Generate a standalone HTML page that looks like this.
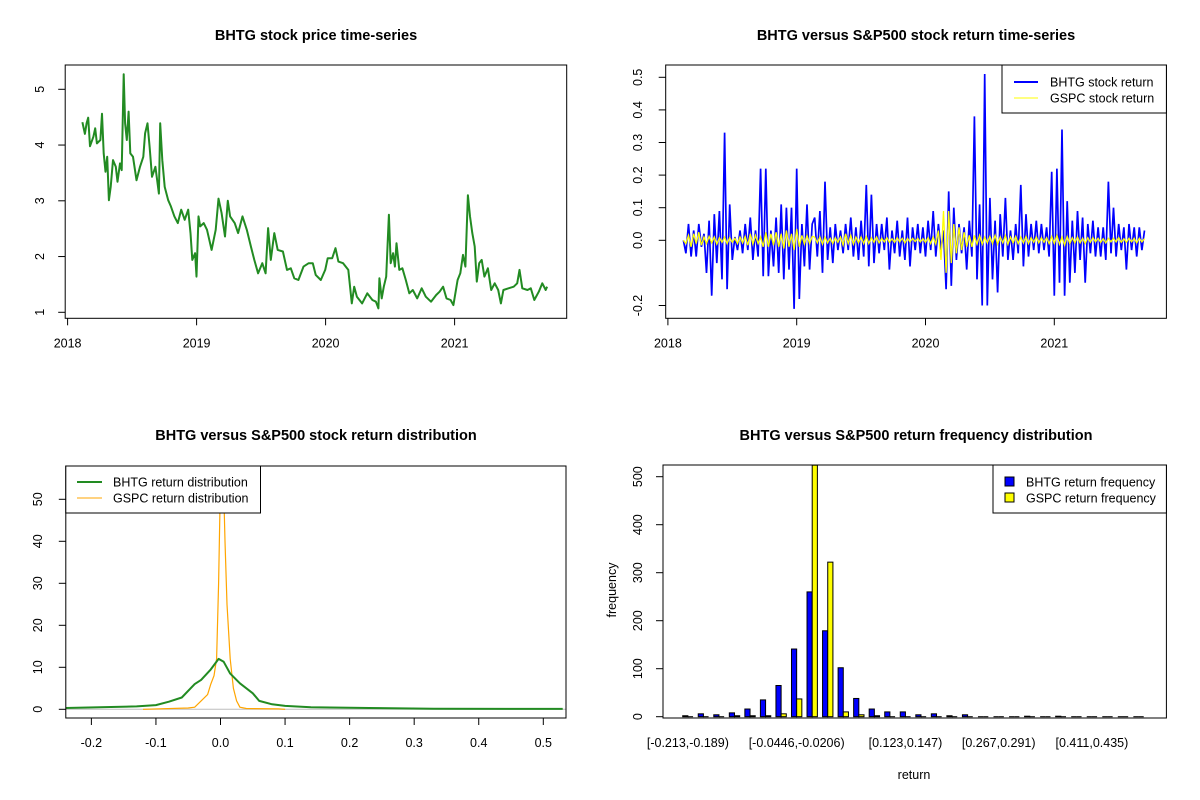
<!DOCTYPE html>
<html><head><meta charset="utf-8"><style>
html,body{margin:0;padding:0;background:#fff;}
svg{display:block;font-family:"Liberation Sans",Arial,sans-serif;}
.t{font-weight:bold;font-size:14.5px;text-anchor:middle;}
.tk{font-size:12.5px;}
</style></head><body>
<svg id="s" width="1200" height="800" viewBox="0 0 1200 800"></svg>
<script>
// ---------- DATA ----------
const priceYears=[2018.115,2018.134,2018.147,2018.160,2018.174,2018.200,2018.214,2018.227,2018.254,2018.267,2018.280,2018.294,2018.307,2018.320,2018.334,2018.352,2018.374,2018.387,2018.406,2018.419,2018.435,2018.446,2018.459,2018.473,2018.486,2018.507,2018.534,2018.561,2018.587,2018.601,2018.619,2018.636,2018.654,2018.681,2018.708,2018.718,2018.734,2018.753,2018.780,2018.801,2018.828,2018.854,2018.881,2018.908,2018.935,2018.953,2018.967,2018.988,2018.999,2019.015,2019.028,2019.055,2019.081,2019.116,2019.148,2019.170,2019.194,2019.220,2019.242,2019.260,2019.295,2019.322,2019.356,2019.389,2019.421,2019.447,2019.477,2019.509,2019.535,2019.554,2019.575,2019.602,2019.629,2019.669,2019.701,2019.730,2019.757,2019.789,2019.829,2019.869,2019.901,2019.923,2019.963,2019.997,2020.016,2020.051,2020.077,2020.099,2020.136,2020.176,2020.203,2020.222,2020.243,2020.283,2020.323,2020.363,2020.390,2020.409,2020.417,2020.435,2020.451,2020.470,2020.491,2020.505,2020.523,2020.537,2020.550,2020.571,2020.595,2020.622,2020.649,2020.676,2020.710,2020.745,2020.777,2020.817,2020.857,2020.884,2020.911,2020.937,2020.969,2020.991,2021.023,2021.044,2021.065,2021.084,2021.103,2021.119,2021.137,2021.156,2021.172,2021.191,2021.210,2021.231,2021.258,2021.284,2021.311,2021.338,2021.359,2021.378,2021.418,2021.458,2021.485,2021.503,2021.525,2021.565,2021.591,2021.618,2021.653,2021.680,2021.706,2021.717];
const priceValues=[4.41,4.20,4.39,4.49,3.98,4.15,4.30,4.03,4.09,4.56,3.85,3.52,3.79,3.01,3.25,3.73,3.61,3.34,3.67,3.55,5.27,4.39,4.09,4.60,3.85,3.79,3.37,3.61,3.79,4.21,4.39,3.97,3.43,3.61,3.13,4.39,3.73,3.25,3.01,2.90,2.72,2.60,2.84,2.66,2.84,2.42,1.94,2.06,1.64,2.72,2.54,2.60,2.48,2.12,2.48,3.04,2.78,2.36,3.00,2.72,2.60,2.42,2.72,2.48,2.18,1.94,1.70,1.88,1.70,2.51,1.94,2.42,2.12,2.09,1.76,1.79,1.61,1.58,1.82,1.88,1.88,1.67,1.58,1.76,1.97,1.97,2.15,1.91,1.88,1.76,1.16,1.46,1.28,1.16,1.34,1.22,1.19,1.07,1.61,1.25,1.46,1.64,2.75,1.88,2.06,1.82,2.24,1.76,1.79,1.58,1.34,1.40,1.25,1.43,1.28,1.19,1.31,1.37,1.46,1.25,1.22,1.13,1.58,1.70,2.03,1.82,3.10,2.72,2.42,2.18,1.55,1.88,1.94,1.64,1.79,1.40,1.52,1.40,1.16,1.40,1.43,1.46,1.52,1.76,1.43,1.40,1.43,1.22,1.37,1.52,1.40,1.46];
const priceTicks=[1,2,3,4,5];
const yearTicks=[2018,2019,2020,2021];

const returnStart=2018.12, returnStep=0.02;
const bhtgReturns=[0.0,-0.04,0.05,-0.05,0.03,-0.05,0.05,-0.02,0.02,-0.1,0.06,-0.17,0.08,-0.07,0.09,-0.12,0.33,-0.15,
0.11,-0.06,0.01,-0.03,0.03,-0.04,0.05,-0.03,0.07,-0.06,0.03,-0.05,
0.22,-0.11,0.22,-0.11,
0.03,-0.08,0.07,-0.1,0.11,-0.12,0.1,-0.09,0.1,-0.21,0.22,
-0.18,0.05,-0.08,0.11,-0.09,0.05,
0.07,-0.05,0.09,-0.1,0.18,-0.06,0.04,-0.07,0.05,-0.03,
0.03,-0.04,0.05,-0.03,0.07,-0.05,0.04,-0.06,0.06,-0.05,
0.17,-0.08,0.14,-0.07,0.05,-0.04,
0.05,-0.03,0.07,-0.09,0.03,-0.04,0.06,-0.05,0.03,-0.06,0.07,-0.08,0.04,-0.03,0.05,-0.04,0.04,-0.05,0.06,-0.03,
0.09,-0.05,0.05,-0.03,0.03,-0.15,0.15,-0.14,0.1,
-0.06,0.05,-0.04,0.04,-0.09,0.06,-0.05,0.38,-0.12,0.11,-0.2,0.51,-0.2,
0.13,-0.12,0.06,-0.16,0.08,-0.05,0.13,-0.06,0.03,-0.06,0.05,-0.04,
0.17,-0.08,0.08,-0.05,0.05,-0.03,0.06,-0.04,0.05,-0.03,
0.04,-0.05,0.21,-0.17,0.22,-0.13,0.34,-0.17,0.12,-0.13,0.06,-0.1,
0.09,-0.06,0.07,-0.13,0.05,-0.04,0.06,-0.05,0.04,-0.05,0.04,-0.06,0.18,
-0.04,0.1,-0.05,0.05,-0.03,0.04,-0.09,0.05,-0.03,0.04,-0.05,0.04,-0.03,0.03];
const gspcReturns=[0.0,-0.01,0.015,-0.02,0.02,-0.01,0.025,-0.015,0.01,-0.01,0.012,-0.008,0.01,-0.012,0.008,-0.006,0.01,-0.01,
0.008,-0.006,0.006,-0.01,0.01,-0.008,0.012,-0.015,0.02,-0.012,0.015,-0.01,
0.01,-0.02,0.025,-0.02,
0.02,-0.015,0.025,-0.02,0.02,-0.025,0.03,-0.02,0.02,-0.03,0.035,
-0.02,0.015,-0.012,0.015,-0.01,0.012,
0.01,-0.008,0.01,-0.012,0.01,-0.008,0.006,-0.01,0.008,-0.006,
0.01,-0.015,0.02,-0.01,0.015,-0.012,0.01,-0.008,0.01,-0.01,
0.012,-0.01,0.008,-0.006,0.01,-0.008,
0.006,-0.005,0.008,-0.006,0.005,-0.006,0.008,-0.005,0.006,-0.008,0.006,-0.005,0.006,-0.004,0.006,-0.005,0.005,-0.006,0.008,-0.01,
0.01,-0.012,0.03,-0.06,0.09,-0.1,0.09,-0.07,0.05,
-0.04,0.04,-0.03,0.025,-0.02,0.015,-0.02,0.015,-0.012,0.015,-0.012,0.01,-0.008,
0.012,-0.01,0.015,-0.012,0.01,-0.008,0.015,-0.012,0.01,-0.008,0.012,-0.01,
0.01,-0.008,0.012,-0.01,0.008,-0.006,0.01,-0.008,0.008,-0.006,
0.008,-0.01,0.012,-0.01,0.015,-0.012,0.01,-0.015,0.012,-0.01,0.008,-0.008,
0.01,-0.008,0.006,-0.01,0.008,-0.006,0.008,-0.005,0.006,-0.006,0.005,-0.008,0.006,
-0.005,0.006,-0.005,0.008,-0.006,0.005,-0.006,0.006,-0.005,0.006,-0.008,0.006,-0.005,0.005];
const returnTicks=[0.5,0.4,0.3,0.2,0.1,0.0,-0.2];
const returnTickLabels=["0.5","0.4","0.3","0.2","0.1","0.0","-0.2"];

const bhtgDensX=[-0.24,-0.13,-0.1,-0.08,-0.06,-0.04,-0.03,-0.015,-0.003,0.005,0.015,0.03,0.05,0.06,0.08,0.1,0.14,0.23,0.33,0.53];
const bhtgDensY=[0.3,0.7,1.0,1.8,2.8,6,7,9.5,12,11.3,8.5,6.2,3.8,2.0,1.2,0.8,0.5,0.3,0.15,0.1];
const gspcDensX=[-0.12,-0.05,-0.04,-0.03,-0.02,-0.015,-0.01,-0.006,-0.003,0,0.002,0.004,0.007,0.01,0.015,0.02,0.025,0.03,0.04,0.09,0.1];
const gspcDensY=[0,0.3,0.5,2,3.5,6,8,12,30,55,62,58,40,25,12,5,2,0.5,0.2,0.1,0];
const densXTicks=[-0.2,-0.1,0.0,0.1,0.2,0.3,0.4,0.5];
const densXLabels=["-0.2","-0.1","0.0","0.1","0.2","0.3","0.4","0.5"];
const densYTicks=[0,10,20,30,40,50];

const bhtgFreq=[2,6,4,8,16,35,65,141,260,179,102,38,16,10,10,4,6,2,4,0,0,0,1,0,1,0,0,0,0,0];
const gspcFreq=[0,0,0,2,2,2,6,37,524,322,10,4,2,0,0,0,0,0,0,0,0,0,0,0,0,0,0,0,0,0];
const binLabels={0:"[-0.213,-0.189)",7:"[-0.0446,-0.0206)",14:"[0.123,0.147)",20:"[0.267,0.291)",26:"[0.411,0.435)"};
const freqTicks=[0,100,200,300,400,500];

// ---------- HELPERS ----------
const NS="http://www.w3.org/2000/svg";
const svg=document.getElementById('s');
function mk(tag,attrs,parent){const e=document.createElementNS(NS,tag);for(const k in attrs)e.setAttribute(k,attrs[k]);(parent||svg).appendChild(e);return e;}
function txt(s,x,y,cls,extra,parent){const e=mk('text',Object.assign({x:x,y:y,class:cls},extra||{}),parent);e.textContent=s;return e;}
function group(name){const g=mk('g',{});return g;}
function box(g,x0,y0,x1,y1){const r=mk('rect',{x:x0,y:y0,width:x1-x0,height:y1-y0,fill:'none',stroke:'#000','stroke-width':1},g);}
function xTick(g,px,yb,label){mk('line',{x1:px,x2:px,y1:yb,y2:yb+7,stroke:'#000'},g);const t=txt(label,px,yb+29,'tk',{'text-anchor':'middle'},g);}
function yTick(g,py,xl,label,lx){mk('line',{x1:xl,x2:xl-7,y1:py,y2:py,stroke:'#000'},g);const t=txt(label,lx,py,'tk',{'text-anchor':'middle',transform:`rotate(-90 ${lx} ${py})`},g);}
function clip(id,x0,y0,x1,y1){const c=mk('clipPath',{id:id});mk('rect',{x:x0,y:y0,width:x1-x0,height:y1-y0},c);}

// ---------- PANEL 1: price ----------
(function(){
 const g=group('price-chart');
 const X=v=>67.6+(v-2018)*129.0, Y=v=>312.3-(v-1)*55.75;
 const t=txt('BHTG stock price time-series',316,40,'t',{},g);
 clip('c1',65.2,65,566.7,318.3);
 const d=priceYears.map((yr,i)=>(i?'L':'M')+X(yr).toFixed(1)+' '+Y(priceValues[i]).toFixed(1)).join(' ');
 const p=mk('path',{d:d,fill:'none',stroke:'#228B22','stroke-width':2,'stroke-linejoin':'round','clip-path':'url(#c1)'},g);
 
 box(g,65.2,65,566.7,318.3);
 yearTicks.forEach(v=>xTick(g,X(v),318.3,String(v)));
 priceTicks.forEach(v=>yTick(g,Y(v),65.2,String(v),44));
})();

// ---------- PANEL 2: returns ----------
(function(){
 const g=group('return-chart');
 const X=v=>667.9+(v-2018)*128.8, Y=v=>240.3-v*326;
 const t=txt('BHTG versus S&P500 stock return time-series',916,40,'t',{},g);
 clip('c2',665.7,65,1166.4,318.3);
 const d1=bhtgReturns.map((v,i)=>(i?'L':'M')+X(returnStart+i*returnStep).toFixed(1)+' '+Y(v).toFixed(1)).join(' ');
 const p1=mk('path',{d:d1,fill:'none',stroke:'#0000FF','stroke-width':1.7,'clip-path':'url(#c2)'},g);
 
 const d2=gspcReturns.map((v,i)=>(i?'L':'M')+X(returnStart+i*returnStep).toFixed(1)+' '+Y(v).toFixed(1)).join(' ');
 const p2=mk('path',{d:d2,fill:'none',stroke:'#FFFF00','stroke-width':1.3,'clip-path':'url(#c2)'},g);
 
 box(g,665.7,65,1166.4,318.3);
 yearTicks.forEach(v=>xTick(g,X(v),318.3,String(v)));
 returnTicks.forEach((v,i)=>yTick(g,Y(v),665.7,returnTickLabels[i],642));
 const lg=group('return-legend');
 mk('rect',{x:1002,y:65,width:164.4,height:48,fill:'#fff',stroke:'#000'},lg);
 mk('line',{x1:1014,x2:1038,y1:82,y2:82,stroke:'#0000FF','stroke-width':2},lg);
 mk('line',{x1:1014,x2:1038,y1:98,y2:98,stroke:'#FFFF00','stroke-width':1},lg);
 txt('BHTG stock return',1050,86.5,'tk',{},lg);
 txt('GSPC stock return',1050,102.5,'tk',{},lg);
})();

// ---------- PANEL 3: density ----------
(function(){
 const g=group('density-chart');
 const X=v=>220.5+v*645.6, Y=v=>709.3-v*4.2;
 const t=txt('BHTG versus S&P500 stock return distribution',316,440,'t',{},g);
 clip('c3',65.8,466,566,718);
 const z=mk('line',{x1:65.8,x2:566,y1:Y(0),y2:Y(0),stroke:'#BEBEBE'},g);
 const d2=gspcDensX.map((v,i)=>(i?'L':'M')+X(v).toFixed(1)+' '+Y(gspcDensY[i]).toFixed(1)).join(' ');
 const p2=mk('path',{d:d2,fill:'none',stroke:'#FFA500','stroke-width':1.2,'clip-path':'url(#c3)'},g);
 
 const d1=bhtgDensX.map((v,i)=>(i?'L':'M')+X(v).toFixed(1)+' '+Y(bhtgDensY[i]).toFixed(1)).join(' ');
 const p1=mk('path',{d:d1,fill:'none',stroke:'#228B22','stroke-width':2,'stroke-linejoin':'round','clip-path':'url(#c3)'},g);
 
 box(g,65.8,466,566,718);
 densXTicks.forEach((v,i)=>xTick(g,X(v),718,densXLabels[i]));
 densYTicks.forEach(v=>yTick(g,Y(v),65.8,String(v),42));
 const lg=group('density-legend');
 mk('rect',{x:65.8,y:466,width:194.7,height:47,fill:'#fff',stroke:'#000'},lg);
 mk('line',{x1:77,x2:102,y1:482,y2:482,stroke:'#228B22','stroke-width':2},lg);
 mk('line',{x1:77,x2:102,y1:498,y2:498,stroke:'#FFA500','stroke-width':1},lg);
 txt('BHTG return distribution',113,486.5,'tk',{},lg);
 txt('GSPC return distribution',113,502.5,'tk',{},lg);
})();

// ---------- PANEL 4: histogram ----------
(function(){
 const g=group('histogram-chart');
 const U=5.18, X=u=>682.7+(u-1)*U, Y=v=>716.7-v*0.48;
 const t=txt('BHTG versus S&P500 return frequency distribution',916,440,'t',{},g);
 clip('c4',663,465,1166.4,718);
 function bar(u,v,fill,name){
  let b;
  if(v>0) b=mk('rect',{x:X(u),y:Y(v),width:U,height:Y(0)-Y(v),fill:fill,stroke:'#000','stroke-width':1,'clip-path':'url(#c4)'},g);
  else b=mk('line',{x1:X(u),x2:X(u)+U,y1:Y(0),y2:Y(0),stroke:'#000','stroke-width':1},g);
  
 }
 bhtgFreq.forEach((v,i)=>{
  bar(1+3*i,v,'#0000FF','bhtg-bar');
  bar(2+3*i,gspcFreq[i],'#FFFF00','gspc-bar');
  if(binLabels[i]!==undefined){const l=txt(binLabels[i],X(2+3*i),747,'tk',{'text-anchor':'middle'},g);}
 });
 box(g,663,465,1166.4,718);
 freqTicks.forEach(v=>yTick(g,Y(v),663,String(v),642));
 const xl=txt('return',914,779,'tk',{'text-anchor':'middle'},g);
 const yl=txt('frequency',616,590,'tk',{'text-anchor':'middle',transform:'rotate(-90 616 590)'},g);
 const lg=group('histogram-legend');
 mk('rect',{x:993,y:465,width:173.4,height:48,fill:'#fff',stroke:'#000'},lg);
 mk('rect',{x:1005,y:477,width:9,height:9,fill:'#0000FF',stroke:'#000'},lg);
 mk('rect',{x:1005,y:493,width:9,height:9,fill:'#FFFF00',stroke:'#000'},lg);
 txt('BHTG return frequency',1026,486.5,'tk',{},lg);
 txt('GSPC return frequency',1026,502.5,'tk',{},lg);
})();
</script>
</body></html>
